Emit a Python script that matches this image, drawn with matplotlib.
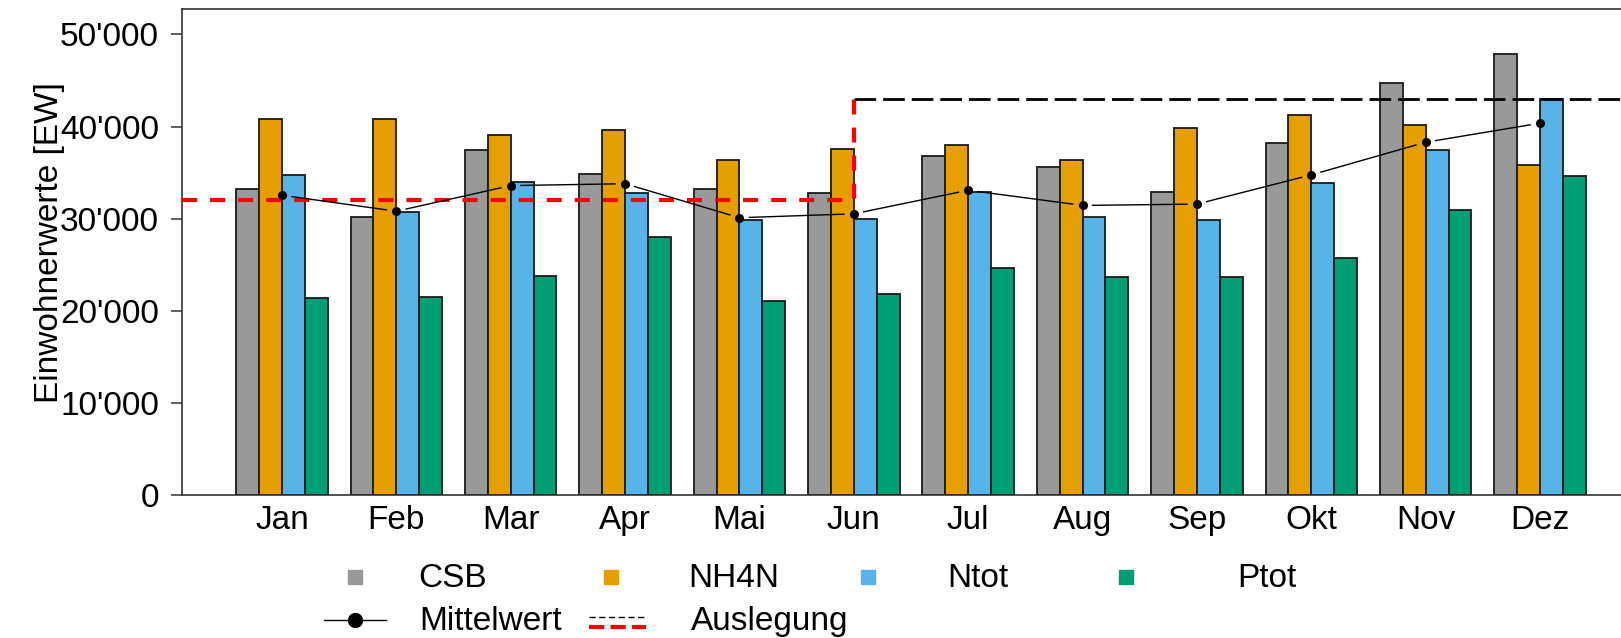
import numpy as np
import matplotlib.pyplot as plt
from matplotlib.lines import Line2D

plt.rcParams['font.family'] = ['Liberation Sans', 'DejaVu Sans']
plt.rcParams['lines.scale_dashes'] = False

months = ["Jan", "Feb", "Mar", "Apr", "Mai", "Jun", "Jul", "Aug", "Sep", "Okt", "Nov", "Dez"]
csb = [33220, 30150, 37430, 34820, 33220, 32790, 36810, 35610, 32930, 38190, 44700, 47920]
nh4n = [40830, 40830, 39120, 39600, 36340, 37570, 38040, 36340, 39880, 41260, 40170, 35860]
ntot = [34780, 30760, 34020, 32790, 29830, 29970, 32900, 30150, 29860, 33880, 37430, 43030]
ptot = [21360, 21500, 23810, 27980, 21030, 21790, 24610, 23670, 23670, 25700, 30910, 34670]
series_names = ["CSB", "NH4N", "Ntot", "Ptot"]
colors = ["#999999", "#E69F00", "#56B4E9", "#009E73"]

ausl_alt = 32000
ausl_neu = 43000
switch_month = 6  # Jun

W, H = 1621, 638
fig = plt.figure(figsize=(W / 100, H / 100), dpi=100)
ax = fig.add_axes([182 / W, 143 / H, 1458 / W, 485.7 / H])

x = np.arange(1, len(months) + 1)
w = 0.2
data = [csb, nh4n, ntot, ptot]
for i, (vals, col) in enumerate(zip(data, colors)):
    ax.bar(x + (i - 1.5) * w, vals, w, color=col, edgecolor="#1a1a1a",
           linewidth=1.3, zorder=2)

x0, x1 = 0.126, 12.874
ax.set_xlim(x0, x1)
ax.set_ylim(0, 52736)

# Auslegung
ax.plot([x0, switch_month, switch_month], [ausl_alt, ausl_alt, ausl_neu],
        color="red", lw=3, dashes=(10.8, 9.4), zorder=4, solid_capstyle="butt")
ax.plot([switch_month, x1], [ausl_neu, ausl_neu], color="black", lw=2,
        dashes=(15.6, 5), zorder=4)

# Mittelwert (type "b": line with gaps round the points)
mean = np.mean(np.array(data), axis=0)
pts = ax.transData.transform(np.column_stack([x, mean]))
inv = ax.transData.inverted()
gap = 10
for a, b in zip(pts[:-1], pts[1:]):
    d = b - a
    u = d / np.linalg.norm(d)
    seg = inv.transform(np.array([a + u * gap, b - u * gap]))
    ax.plot(seg[:, 0], seg[:, 1], color="black", lw=1, zorder=5)
ax.plot(x, mean, "o", ms=5.5, color="black", zorder=6)

ax.spines["right"].set_visible(False)
for s in ["left", "top", "bottom"]:
    ax.spines[s].set_linewidth(1.2)
    ax.spines[s].set_color("#333333")

ax.set_yticks(np.arange(0, 50001, 10000))
ax.set_yticklabels([f"{int(v):,}".replace(",", "'") for v in np.arange(0, 50001, 10000)])
ax.set_xticks(x)
ax.set_xticklabels(months)
ax.tick_params(axis="y", length=8, width=1.1, pad=8.5, labelsize=24, colors="#333333",
               labelcolor="black")
ax.tick_params(axis="x", length=0, pad=7.5, labelsize=24)

fig.text(50 / W, 1 - 243 / H, "Einwohnerwerte [EW]", rotation=90, ha="center",
         va="center", fontsize=24)

# legend drawn by hand to follow the original layout
def fy(py):
    return 1 - py / H

marker_x = [355, 611, 868, 1126]
text_x = [418, 688, 947, 1237]
for name, col, mx, tx in zip(series_names, colors, marker_x, text_x):
    fig.add_artist(Line2D([mx / W], [fy(577)], marker="s", ms=10, color=col,
                          ls="none", transform=fig.transFigure))
    fig.text(tx / W, fy(587), name, fontsize=24, va="baseline")

fig.add_artist(Line2D([324 / W, 386 / W], [fy(620), fy(620)], color="black", lw=1,
                      transform=fig.transFigure))
fig.add_artist(Line2D([355 / W], [fy(620)], marker="o", ms=10, color="black",
                      ls="none", transform=fig.transFigure))
fig.text(419 / W, fy(630), "Mittelwert", fontsize=24, va="baseline")

fig.add_artist(Line2D([589 / W, 646 / W], [fy(627), fy(627)], color="red", lw=3,
                      dashes=(11, 4.5), transform=fig.transFigure))
fig.add_artist(Line2D([589 / W, 646 / W], [fy(617), fy(617)], color="black", lw=1,
                      dashes=(4.5, 2.5), transform=fig.transFigure))
fig.text(691 / W, fy(630), "Auslegung", fontsize=24, va="baseline")

fig.savefig("out.png", dpi=100)
